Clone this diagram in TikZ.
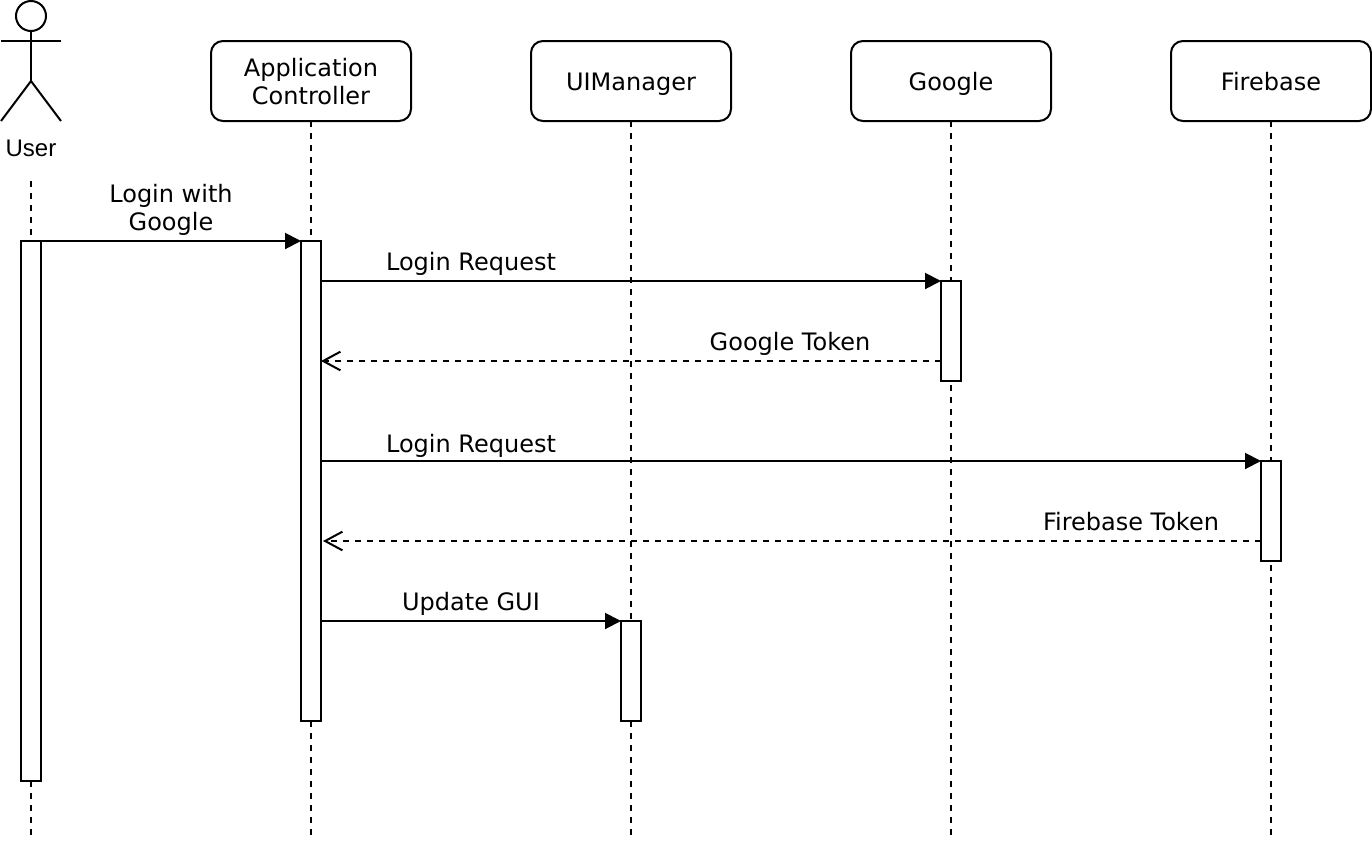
\documentclass[tikz,border=0pt]{standalone}
\usepackage{fontspec}
\setmainfont{DejaVu Sans}
\newfontfamily\actorfont{Liberation Sans}
\usetikzlibrary{arrows.meta,calc}

\newcommand{\firstlinestrut}{\rule{0pt}{20.7pt}}

\tikzset{
  struttext/.style={execute at begin node={\rule{0pt}{20.7pt}},execute at end node={\rule[-6.3pt]{0pt}{6.3pt}}},
  headbox/.style={struttext,draw,fill=white,rounded corners=9pt,minimum width=150pt,minimum height=60pt,
    inner sep=0pt,outer sep=0pt,align=center},
  actbar/.style={draw,fill=white,minimum width=15pt,inner sep=0pt,outer sep=0pt},
  lifeline/.style={dashed,dash pattern=on 4.5pt off 4.5pt},
  msgcall/.style={-{Triangle[length=12pt,width=12pt]}},
  msgback/.style={lifeline,-{Straight Barb[length=13pt,width=14pt,line width=1.5pt]}},
  msglabel/.style={struttext,inner sep=0pt,align=center},
}

\begin{document}
\begin{tikzpicture}[x=0.75pt,y=-0.75pt,line width=1.5pt,
    font=\fontsize{18pt}{21pt}\selectfont]

  \useasboundingbox (0,0) rectangle (1372,844);

  % Lifeline heads
  \foreach \nm/\cx/\txt in {app/311/{\firstlinestrut Application\\Controller},ui/631/UIManager,
      google/951/Google,firebase/1271/Firebase} {
    \node[headbox] (\nm Head) at (\cx,81) {\txt};
    \coordinate (\nm End) at (\cx,835);
    \draw[lifeline] (\nm Head) -- (\nm End);
  }

  % Stick figure
  \node[draw,circle,minimum size=22.5pt,inner sep=0pt,outer sep=0pt] (userHead) at (31,16) {};
  \coordinate (userHip) at (31,81);
  \coordinate (userArmL) at (1,41);
  \coordinate (userArmR) at (61,41);
  \coordinate (userFootL) at (1,121);
  \coordinate (userFootR) at (61,121);
  \draw (userHead) -- (userHip);
  \draw (userArmL) -- (userArmR);
  \draw (userFootL) -- (userHip) -- (userFootR);
  \node[inner sep=0pt,font=\actorfont\fontsize{18pt}{21pt}\selectfont] (userName) at (31,148) {User};

  \coordinate (userTop) at (31,181);
  \coordinate (userEnd) at (31,835);
  \draw[lifeline] (userTop) -- (userEnd);

  % Activation bars
  \node[actbar,minimum height=405pt] (userBar) at (31,511) {};
  \node[actbar,minimum height=360pt] (appBar) at (311,481) {};
  \node[actbar,minimum height=75pt] (googleBar) at (951,331) {};
  \node[actbar,minimum height=75pt] (firebaseBar) at (1271,511) {};
  \node[actbar,minimum height=75pt] (uiBar) at (631,671) {};

  % Return ends
  \coordinate (googleOut) at (941,361);
  \coordinate (googleIn) at (321,361);
  \coordinate (firebaseOut) at (1261,541);
  \coordinate (firebaseIn) at (323,541);

  % Messages
  \draw[msgcall] (userBar.north east) -- (appBar.north west);
  \draw[msgcall] (appBar.east |- googleBar.north) -- (googleBar.north west);
  \draw[msgback] (googleOut) -- (googleIn);
  \draw[msgcall] (appBar.east |- firebaseBar.north) -- (firebaseBar.north west);
  \draw[msgback] (firebaseOut) -- (firebaseIn);
  \draw[msgcall] (appBar.east |- uiBar.north) -- (uiBar.north west);

  % Message labels
  \node[msglabel] (loginLabel) at (171,207) {\firstlinestrut Login with\\Google};
  \node[msglabel] (googleReqLabel) at (471,261) {Login Request};
  \node[msglabel] (googleTokLabel) at (790,341) {Google Token};
  \node[msglabel] (firebaseReqLabel) at (471,443) {Login Request};
  \node[msglabel] (firebaseTokLabel) at (1131,521) {Firebase Token};
  \node[msglabel] (guiLabel) at (471,601) {Update GUI};

\end{tikzpicture}
\end{document}
